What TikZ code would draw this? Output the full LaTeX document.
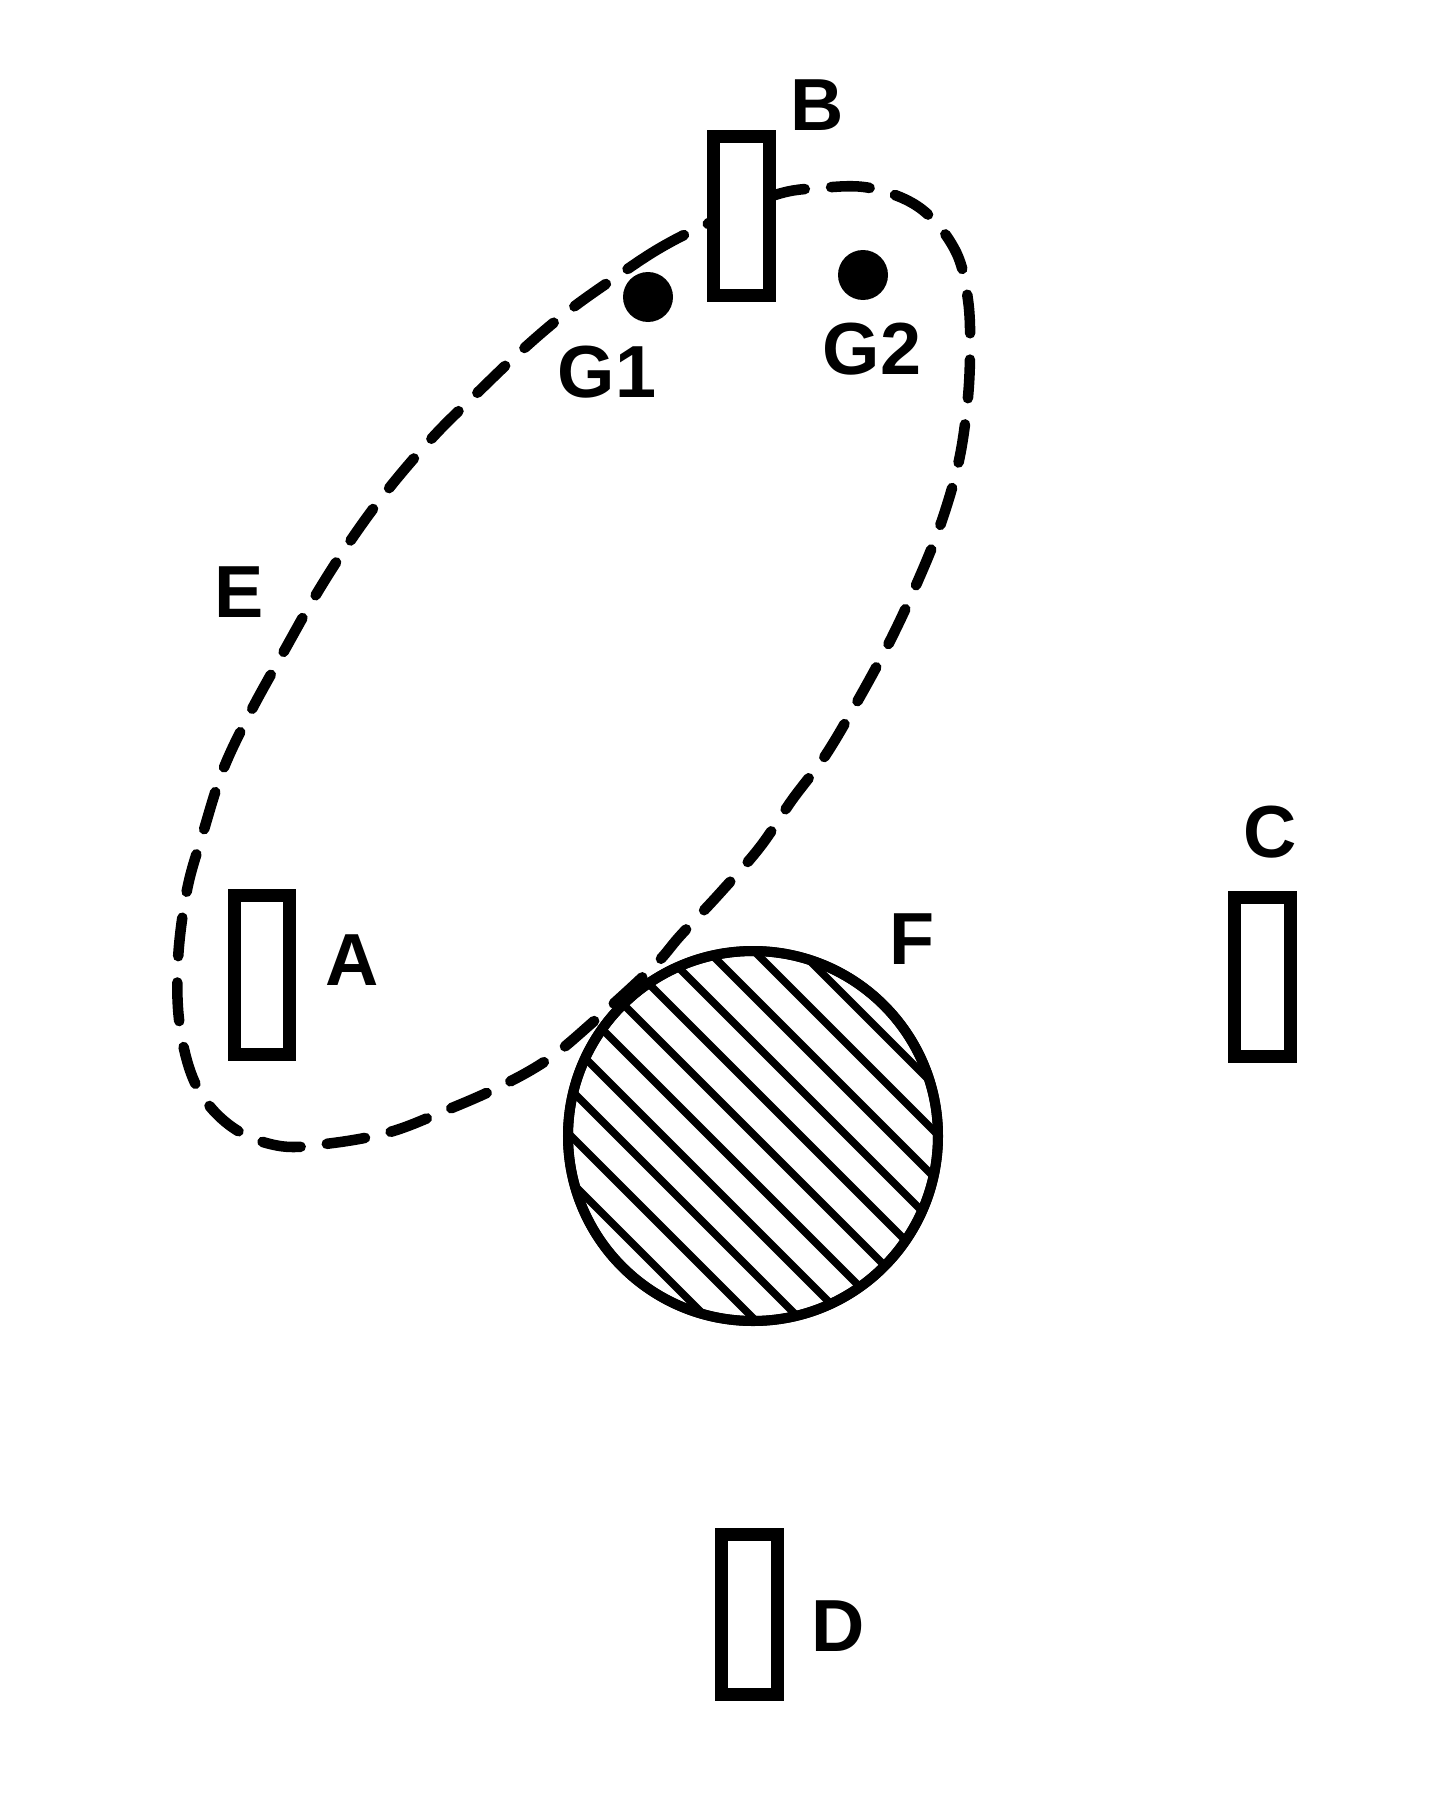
\documentclass[tikz,border=0pt]{standalone}
\usepackage{fontspec}
\setmainfont{Liberation Sans}
\usetikzlibrary{positioning,calc}
\tikzstyle{sensor} = [draw, fill=white, rectangle, line width=7.4pt,
    inner sep=0pt, minimum width=1.12cm, minimum height=3.2cm]
\tikzstyle{lbl} = [inner sep=0pt, font=\fontsize{42}{42}\selectfont\bfseries]
\tikzstyle{gauge} = [circle, fill=black, inner sep=0pt, minimum size=1cm]
\tikzstyle{zone} = [draw, fill=white, circle, line width=5.7pt, inner sep=0pt, minimum size=7.4cm]
\tikzstyle{boundary} = [line width=6pt, line cap=round, dash pattern=on 22pt off 15pt]
\tikzstyle{hatch} = [line width=4.4pt]

\begin{document}
\begin{tikzpicture}[x=0.02cm, y=-0.02cm]
\useasboundingbox (0,0) rectangle (1450,1802);
% Boundary E
	\draw [boundary] plot [smooth cycle, tension=0.6] coordinates {
		(707,224) (660,248) (616,277) (567,312) (520,352) (470,400) (433,437)
		(390,487) (353,537) (317,593) (283,653) (250,713) (223,770) (203,833)
		(187,890) (178,960) (180,1027) (197,1087) (232,1127) (280,1146) (333,1143)
		(390,1132) (442,1112) (497,1088) (547,1060) (593,1022) (653,967) (680,936)
		(720,893) (760,847) (792,800) (825,756) (857,702) (890,641) (917,583)
		(940,526) (958,465) (967,407) (970,355) (968,300) (955,250) (920,208)
		(870,188) (820,188) (775,195)};
	\node [lbl] (labE) at (239,592) {E};
% Zone F
	\node [zone] (F) at (753,1136) {};
	\begin{scope}
		\clip (F.center) circle (185);
		\foreach \c in {-228,-182,...,232}
			\draw [hatch] ($(F.center)+(\c/2-300,-\c/2-300)$) -- ($(F.center)+(\c/2+300,-\c/2+300)$);
	\end{scope}
	\draw [line width=5.7pt] (F.center) circle (185);
	\node [lbl] (labF) at (912,939) {F};
% Sensors
	\node [sensor] (rB) at (741,216) {};
	\node [sensor] (rA) at (262,975) {};
	\node [sensor] (rC) at (1262,977) {};
	\node [sensor] (rD) at (749,1614) {};
	\node [lbl] (labB) at (817,105) {B};
	\node [lbl, right of=rA, node distance=1.8cm, yshift=0.3cm] (labA) {A};
	\node [lbl, above of=rC, node distance=2.9cm, xshift=0.16cm] (labC) {C};
	\node [lbl, right of=rD, node distance=1.78cm, yshift=-0.24cm] (labD) {D};
% Gauges
	\node [gauge] (G1) at (648,297) {};
	\node [gauge] (G2) at (863,275) {};
	\node [lbl] (labG1) at (607,372) {G1};
	\node [lbl] (labG2) at (872,349) {G2};
\end{tikzpicture}
\end{document}
